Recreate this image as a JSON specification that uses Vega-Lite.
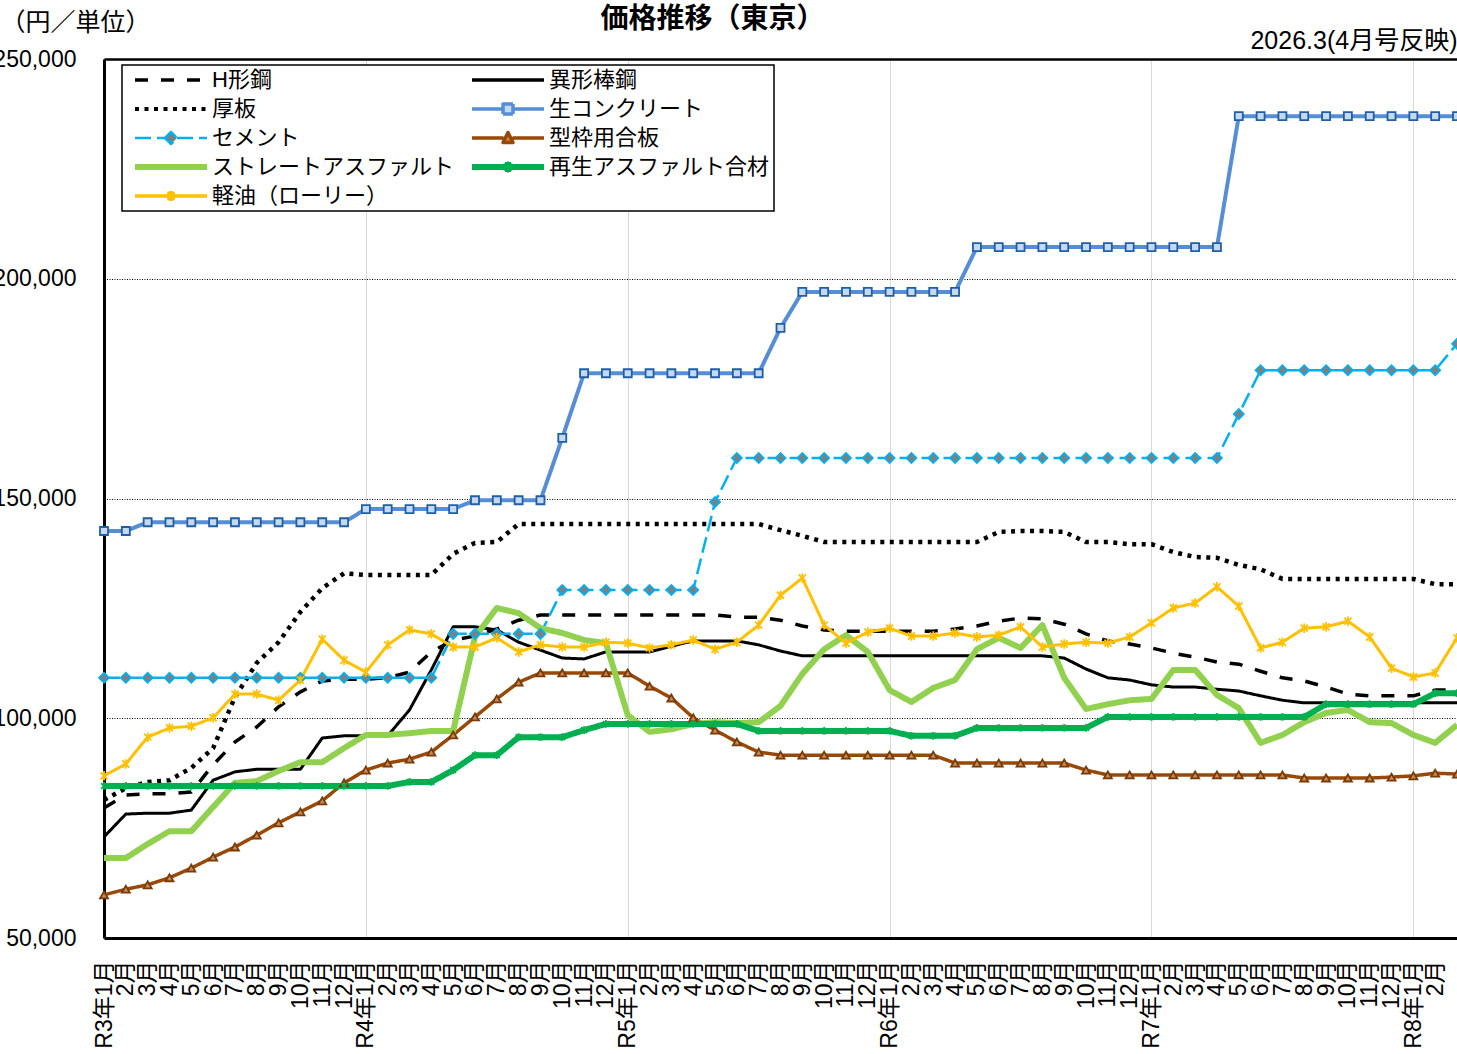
{
  "$schema": "https://vega.github.io/schema/vega-lite/v6.json",
  "width": 1353,
  "height": 879,
  "autosize": {"type": "none"},
  "padding": {"left": 104, "top": 59, "right": 0, "bottom": 116},
  "background": "white",
  "title": {"text": "価格推移（東京）", "fontSize": 28, "fontWeight": "bold", "color": "#000", "anchor": "middle", "frame": "group", "dx": -68, "dy": 26, "offset": 2},
  "data": {"values": [
    {"月":"R3年1月","H形鋼":79600,"異形棒鋼":73000,"厚板":81400,"生コンクリート":142600,"セメント":109200,"型枠用合板":59800,"ストレートアスファルト":68200,"再生アスファルト合材":84600,"軽油（ローリー）":86900},
    {"月":"R3年2月","H形鋼":82500,"異形棒鋼":78200,"厚板":84100,"生コンクリート":142600,"セメント":109200,"型枠用合板":61100,"ストレートアスファルト":68200,"再生アスファルト合材":84600,"軽油（ローリー）":89600},
    {"月":"R3年3月","H形鋼":82800,"異形棒鋼":78400,"厚板":85500,"生コンクリート":144600,"セメント":109200,"型枠用合板":62100,"ストレートアスファルト":71400,"再生アスファルト合材":84600,"軽油（ローリー）":95700},
    {"月":"R3年4月","H形鋼":82800,"異形棒鋼":78400,"厚板":85900,"生コンクリート":144600,"セメント":109200,"型枠用合板":63700,"ストレートアスファルト":74300,"再生アスファルト合材":84600,"軽油（ローリー）":97800},
    {"月":"R3年5月","H形鋼":83200,"異形棒鋼":79100,"厚板":88700,"生コンクリート":144600,"セメント":109200,"型枠用合板":65900,"ストレートアスファルト":74300,"再生アスファルト合材":84600,"軽油（ローリー）":98200},
    {"月":"R3年6月","H形鋼":89400,"異形棒鋼":85900,"厚板":93200,"生コンクリート":144600,"セメント":109200,"型枠用合板":68400,"ストレートアスファルト":79800,"再生アスファルト合材":84600,"軽油（ローリー）":100100},
    {"月":"R3年7月","H形鋼":94600,"異形棒鋼":87800,"厚板":104800,"生コンクリート":144600,"セメント":109200,"型枠用合板":70700,"ストレートアスファルト":85300,"再生アスファルト合材":84600,"軽油（ローリー）":105500},
    {"月":"R3年8月","H形鋼":98000,"異形棒鋼":88400,"厚板":112600,"生コンクリート":144600,"セメント":109200,"型枠用合板":73400,"ストレートアスファルト":85700,"再生アスファルト合材":84600,"軽油（ローリー）":105500},
    {"月":"R3年9月","H形鋼":102600,"異形棒鋼":88400,"厚板":117300,"生コンクリート":144600,"セメント":109200,"型枠用合板":76200,"ストレートアスファルト":88000,"再生アスファルト合材":84600,"軽油（ローリー）":104100},
    {"月":"R3年10月","H形鋼":106000,"異形棒鋼":88400,"厚板":124200,"生コンクリート":144600,"セメント":109200,"型枠用合板":78700,"ストレートアスファルト":90000,"再生アスファルト合材":84600,"軽油（ローリー）":108700},
    {"月":"R3年11月","H形鋼":108500,"異形棒鋼":95500,"厚板":129600,"生コンクリート":144600,"セメント":109200,"型枠用合板":81200,"ストレートアスファルト":90000,"再生アスファルト合材":84600,"軽油（ローリー）":118000},
    {"月":"R3年12月","H形鋼":108900,"異形棒鋼":96000,"厚板":133000,"生コンクリート":144600,"セメント":109200,"型枠用合板":85300,"ストレートアスファルト":93200,"再生アスファルト合材":84600,"軽油（ローリー）":113200},
    {"月":"R4年1月","H形鋼":108900,"異形棒鋼":96000,"厚板":132600,"生コンクリート":147600,"セメント":109200,"型枠用合板":88200,"ストレートアスファルト":96200,"再生アスファルト合材":84600,"軽油（ローリー）":110500},
    {"月":"R4年2月","H形鋼":109200,"異形棒鋼":96000,"厚板":132600,"生コンクリート":147600,"セメント":109200,"型枠用合板":89800,"ストレートアスファルト":96200,"再生アスファルト合材":84600,"軽油（ローリー）":116700},
    {"月":"R4年3月","H形鋼":110500,"異形棒鋼":101900,"厚板":132600,"生コンクリート":147600,"セメント":109200,"型枠用合板":90700,"ストレートアスファルト":96600,"再生アスファルト合材":85500,"軽油（ローリー）":120100},
    {"月":"R4年4月","H形鋼":115100,"異形棒鋼":111000,"厚板":132600,"生コンクリート":147600,"セメント":109200,"型枠用合板":92300,"ストレートアスファルト":97100,"再生アスファルト合材":85500,"軽油（ローリー）":119200},
    {"月":"R4年5月","H形鋼":117800,"異形棒鋼":120800,"厚板":137400,"生コンクリート":147600,"セメント":119200,"型枠用合板":96200,"ストレートアスファルト":97100,"再生アスファルト合材":88200,"軽油（ローリー）":116200},
    {"月":"R4年6月","H形鋼":118700,"異形棒鋼":120800,"厚板":139900,"生コンクリート":149600,"セメント":119200,"型枠用合板":100300,"ストレートアスファルト":118500,"再生アスファルト合材":91600,"軽油（ローリー）":116200},
    {"月":"R4年7月","H形鋼":120300,"異形棒鋼":120100,"厚板":140100,"生コンクリート":149600,"セメント":119200,"型枠用合板":104400,"ストレートアスファルト":125100,"再生アスファルト合材":91600,"軽油（ローリー）":118300},
    {"月":"R4年8月","H形鋼":122300,"異形棒鋼":117300,"厚板":144200,"生コンクリート":149600,"セメント":119200,"型枠用合板":108200,"ストレートアスファルト":123900,"再生アスファルト合材":95700,"軽油（ローリー）":115100},
    {"月":"R4年9月","H形鋼":123500,"異形棒鋼":115500,"厚板":144200,"生コンクリート":149600,"セメント":119200,"型枠用合板":110300,"ストレートアスファルト":120500,"再生アスファルト合材":95700,"軽油（ローリー）":116700},
    {"月":"R4年10月","H形鋼":123500,"異形棒鋼":113700,"厚板":144200,"生コンクリート":163800,"セメント":129200,"型枠用合板":110300,"ストレートアスファルト":119400,"再生アスファルト合材":95700,"軽油（ローリー）":116200},
    {"月":"R4年11月","H形鋼":123500,"異形棒鋼":113500,"厚板":144200,"生コンクリート":178500,"セメント":129200,"型枠用合板":110300,"ストレートアスファルト":117800,"再生アスファルト合材":97300,"軽油（ローリー）":116200},
    {"月":"R4年12月","H形鋼":123500,"異形棒鋼":115100,"厚板":144200,"生コンクリート":178500,"セメント":129200,"型枠用合板":110300,"ストレートアスファルト":117100,"再生アスファルト合材":98700,"軽油（ローリー）":117300},
    {"月":"R5年1月","H形鋼":123500,"異形棒鋼":115100,"厚板":144200,"生コンクリート":178500,"セメント":129200,"型枠用合板":110300,"ストレートアスファルト":100700,"再生アスファルト合材":98700,"軽油（ローリー）":117100},
    {"月":"R5年2月","H形鋼":123500,"異形棒鋼":115100,"厚板":144200,"生コンクリート":178500,"セメント":129200,"型枠用合板":107300,"ストレートアスファルト":96900,"再生アスファルト合材":98700,"軽油（ローリー）":116000},
    {"月":"R5年3月","H形鋼":123500,"異形棒鋼":116400,"厚板":144200,"生コンクリート":178500,"セメント":129200,"型枠用合板":104600,"ストレートアスファルト":97500,"再生アスファルト合材":98700,"軽油（ローリー）":116700},
    {"月":"R5年4月","H形鋼":123500,"異形棒鋼":117600,"厚板":144200,"生コンクリート":178500,"セメント":129200,"型枠用合板":100100,"ストレートアスファルト":98700,"再生アスファルト合材":98700,"軽油（ローリー）":117800},
    {"月":"R5年5月","H形鋼":123500,"異形棒鋼":117600,"厚板":144200,"生コンクリート":178500,"セメント":149200,"型枠用合板":97300,"ストレートアスファルト":99100,"再生アスファルト合材":98700,"軽油（ローリー）":115700},
    {"月":"R5年6月","H形鋼":123000,"異形棒鋼":117600,"厚板":144200,"生コンクリート":178500,"セメント":159200,"型枠用合板":94600,"ストレートアスファルト":98900,"再生アスファルト合材":98700,"軽油（ローリー）":117300},
    {"月":"R5年7月","H形鋼":123000,"異形棒鋼":116700,"厚板":144200,"生コンクリート":178500,"セメント":159200,"型枠用合板":92300,"ストレートアスファルト":99100,"再生アスファルト合材":97100,"軽油（ローリー）":121200},
    {"月":"R5年8月","H形鋼":122300,"異形棒鋼":115300,"厚板":142800,"生コンクリート":188800,"セメント":159200,"型枠用合板":91600,"ストレートアスファルト":102800,"再生アスファルト合材":97100,"軽油（ローリー）":128000},
    {"月":"R5年9月","H形鋼":121000,"異形棒鋼":114200,"厚板":141500,"生コンクリート":197000,"セメント":159200,"型枠用合板":91600,"ストレートアスファルト":110100,"再生アスファルト合材":97100,"軽油（ローリー）":131900},
    {"月":"R5年10月","H形鋼":120100,"異形棒鋼":114200,"厚板":140100,"生コンクリート":197000,"セメント":159200,"型枠用合板":91600,"ストレートアスファルト":115700,"再生アスファルト合材":97100,"軽油（ローリー）":121200},
    {"月":"R5年11月","H形鋼":119800,"異形棒鋼":114200,"厚板":140100,"生コンクリート":197000,"セメント":159200,"型枠用合板":91600,"ストレートアスファルト":118900,"再生アスファルト合材":97100,"軽油（ローリー）":117100},
    {"月":"R5年12月","H形鋼":119800,"異形棒鋼":114200,"厚板":140100,"生コンクリート":197000,"セメント":159200,"型枠用合板":91600,"ストレートアスファルト":115100,"再生アスファルト合材":97100,"軽油（ローリー）":119600},
    {"月":"R6年1月","H形鋼":119800,"異形棒鋼":114200,"厚板":140100,"生コンクリート":197000,"セメント":159200,"型枠用合板":91600,"ストレートアスファルト":106400,"再生アスファルト合材":97100,"軽油（ローリー）":120500},
    {"月":"R6年2月","H形鋼":119800,"異形棒鋼":114200,"厚板":140100,"生コンクリート":197000,"セメント":159200,"型枠用合板":91600,"ストレートアスファルト":103700,"再生アスファルト合材":96000,"軽油（ローリー）":118700},
    {"月":"R6年3月","H形鋼":119800,"異形棒鋼":114200,"厚板":140100,"生コンクリート":197000,"セメント":159200,"型枠用合板":91600,"ストレートアスファルト":106900,"再生アスファルト合材":96000,"軽油（ローリー）":118700},
    {"月":"R6年4月","H形鋼":120300,"異形棒鋼":114200,"厚板":140100,"生コンクリート":197000,"セメント":159200,"型枠用合板":89800,"ストレートアスファルト":108700,"再生アスファルト合材":96000,"軽油（ローリー）":119400},
    {"月":"R6年5月","H形鋼":121000,"異形棒鋼":114200,"厚板":140100,"生コンクリート":207200,"セメント":159200,"型枠用合板":89800,"ストレートアスファルト":115700,"再生アスファルト合材":97800,"軽油（ローリー）":118500},
    {"月":"R6年6月","H形鋼":122100,"異形棒鋼":114200,"厚板":142400,"生コンクリート":207200,"セメント":159200,"型枠用合板":89800,"ストレートアスファルト":118300,"再生アスファルト合材":97800,"軽油（ローリー）":118900},
    {"月":"R6年7月","H形鋼":122800,"異形棒鋼":114200,"厚板":142600,"生コンクリート":207200,"セメント":159200,"型枠用合板":89800,"ストレートアスファルト":116000,"再生アスファルト合材":97800,"軽油（ローリー）":120800},
    {"月":"R6年8月","H形鋼":122600,"異形棒鋼":114200,"厚板":142600,"生コンクリート":207200,"セメント":159200,"型枠用合板":89800,"ストレートアスファルト":121200,"再生アスファルト合材":97800,"軽油（ローリー）":116200},
    {"月":"R6年9月","H形鋼":121400,"異形棒鋼":113700,"厚板":142400,"生コンクリート":207200,"セメント":159200,"型枠用合板":89800,"ストレートアスファルト":109200,"再生アスファルト合材":97800,"軽油（ローリー）":116900},
    {"月":"R6年10月","H形鋼":119200,"異形棒鋼":111200,"厚板":140100,"生コンクリート":207200,"セメント":159200,"型枠用合板":88200,"ストレートアスファルト":102100,"再生アスファルト合材":97800,"軽油（ローリー）":117300},
    {"月":"R6年11月","H形鋼":117600,"異形棒鋼":109200,"厚板":140100,"生コンクリート":207200,"セメント":159200,"型枠用合板":87100,"ストレートアスファルト":103200,"再生アスファルト合材":100300,"軽油（ローリー）":117100},
    {"月":"R6年12月","H形鋼":116900,"異形棒鋼":108700,"厚板":139600,"生コンクリート":207200,"セメント":159200,"型枠用合板":87100,"ストレートアスファルト":104100,"再生アスファルト合材":100300,"軽油（ローリー）":118500},
    {"月":"R7年1月","H形鋼":116000,"異形棒鋼":107600,"厚板":139600,"生コンクリート":207200,"セメント":159200,"型枠用合板":87100,"ストレートアスファルト":104400,"再生アスファルト合材":100300,"軽油（ローリー）":121700},
    {"月":"R7年2月","H形鋼":114800,"異形棒鋼":107100,"厚板":137800,"生コンクリート":207200,"セメント":159200,"型枠用合板":87100,"ストレートアスファルト":111000,"再生アスファルト合材":100300,"軽油（ローリー）":125100},
    {"月":"R7年3月","H形鋼":113900,"異形棒鋼":107100,"厚板":136700,"生コンクリート":207200,"セメント":159200,"型枠用合板":87100,"ストレートアスファルト":111000,"再生アスファルト合材":100300,"軽油（ローリー）":126200},
    {"月":"R7年4月","H形鋼":112800,"異形棒鋼":106600,"厚板":136500,"生コンクリート":207200,"セメント":159200,"型枠用合板":87100,"ストレートアスファルト":105300,"再生アスファルト合材":100300,"軽油（ローリー）":129900},
    {"月":"R7年5月","H形鋼":112300,"異形棒鋼":106200,"厚板":134900,"生コンクリート":237000,"セメント":169200,"型枠用合板":87100,"ストレートアスファルト":102300,"再生アスファルト合材":100300,"軽油（ローリー）":125500},
    {"月":"R7年6月","H形鋼":110700,"異形棒鋼":105100,"厚板":133900,"生コンクリート":237000,"セメント":179200,"型枠用合板":87100,"ストレートアスファルト":94400,"再生アスファルト合材":100300,"軽油（ローリー）":116000},
    {"月":"R7年7月","H形鋼":109200,"異形棒鋼":104100,"厚板":131700,"生コンクリート":237000,"セメント":179200,"型枠用合板":87100,"ストレートアスファルト":96200,"再生アスファルト合材":100300,"軽油（ローリー）":117300},
    {"月":"R7年8月","H形鋼":108500,"異形棒鋼":103500,"厚板":131700,"生コンクリート":237000,"セメント":179200,"型枠用合板":86400,"ストレートアスファルト":99100,"再生アスファルト合材":100300,"軽油（ローリー）":120500},
    {"月":"R7年9月","H形鋼":107100,"異形棒鋼":103500,"厚板":131700,"生コンクリート":237000,"セメント":179200,"型枠用合板":86400,"ストレートアスファルト":101200,"再生アスファルト合材":103200,"軽油（ローリー）":120800},
    {"月":"R7年10月","H形鋼":105500,"異形棒鋼":103500,"厚板":131700,"生コンクリート":237000,"セメント":179200,"型枠用合板":86400,"ストレートアスファルト":101900,"再生アスファルト合材":103200,"軽油（ローリー）":122100},
    {"月":"R7年11月","H形鋼":105100,"異形棒鋼":103500,"厚板":131700,"生コンクリート":237000,"セメント":179200,"型枠用合板":86400,"ストレートアスファルト":99100,"再生アスファルト合材":103200,"軽油（ローリー）":118500},
    {"月":"R7年12月","H形鋼":105100,"異形棒鋼":103500,"厚板":131700,"生コンクリート":237000,"セメント":179200,"型枠用合板":86600,"ストレートアスファルト":98900,"再生アスファルト合材":103200,"軽油（ローリー）":111400},
    {"月":"R8年1月","H形鋼":105100,"異形棒鋼":103500,"厚板":131700,"生コンクリート":237000,"セメント":179200,"型枠用合板":86900,"ストレートアスファルト":96200,"再生アスファルト合材":103200,"軽油（ローリー）":109400},
    {"月":"R8年2月","H形鋼":106400,"異形棒鋼":103500,"厚板":130500,"生コンクリート":237000,"セメント":179200,"型枠用合板":87500,"ストレートアスファルト":94400,"再生アスファルト合材":105700,"軽油（ローリー）":110300},
    {"月":"R8年3月","H形鋼":106400,"異形棒鋼":103500,"厚板":130500,"生コンクリート":237000,"セメント":185200,"型枠用合板":87300,"ストレートアスファルト":98500,"再生アスファルト合材":105700,"軽油（ローリー）":118300}
  ]},
  "transform": [
    {"fold": ["H形鋼","異形棒鋼","厚板","生コンクリート","セメント","型枠用合板","ストレートアスファルト","再生アスファルト合材","軽油（ローリー）"], "as": ["品目","価格"]}
  ],
  "encoding": {
    "y": {
      "field": "価格", "type": "quantitative",
      "scale": {"domain": [50000, 250000], "nice": false, "zero": false},
      "axis": {
        "values": [50000, 100000, 150000, 200000, 250000], "format": ",.0f", "formatType": "number",
        "labelFontSize": 23, "labelColor": "#000", "labelPadding": 28,
        "ticks": false, "domain": true, "domainColor": "#000", "domainWidth": 3,
        "grid": true, "gridColor": "#000", "gridDash": [1, 1.5], "gridWidth": 1,
        "title": "（円／単位）", "titleAngle": 0, "titleAlign": "left", "titleBaseline": "middle",
        "titleX": -104, "titleY": -37, "titleFontSize": 25, "titleFontWeight": "normal", "titleColor": "#000"
      }
    }
  },
  "layer": [
    {
      "mark": {"type": "line", "strokeCap": "butt", "strokeJoin": "round"},
      "encoding": {
        "x": {
          "field": "月", "type": "ordinal", "sort": null,
          "scale": {"type": "point", "padding": 0},
          "axis": {
            "orient": "bottom", "title": null, "labelAngle": 270, "labelFontSize": 23, "labelColor": "#000",
            "labelPadding": 22, "labelOverlap": false, "labelFlush": false, "labelLimit": 200,
            "labelExpr": "datum.label == 'R8年3月' ? '' : (indexof(datum.label, '年1月') >= 0 ? datum.label : split(datum.label, '年')[1])",
            "ticks": false, "domain": true, "domainColor": "#000", "domainWidth": 3,
            "grid": true, "gridColor": "#d9d9d9", "gridWidth": 1,
            "gridOpacity": {"condition": {"test": "indexof(datum.value, '年1月') >= 0", "value": 1}, "value": 0}
          }
        },
        "color": {
          "field": "品目", "type": "nominal",
          "scale": {
            "domain": ["H形鋼","異形棒鋼","厚板","生コンクリート","セメント","型枠用合板","ストレートアスファルト","再生アスファルト合材","軽油（ローリー）"],
            "range": ["#000000","#000000","#000000","#558ed5","#00b0f0","#984807","#92d050","#00b050","#ffc000"]
          },
          "legend": {
            "orient": "none", "legendX": 18, "legendY": 6, "columns": 2, "direction": "horizontal", "title": null,
            "symbolSize": 100, "labelFontSize": 22, "labelLimit": 400, "labelColor": "#000", "labelBaseline": "middle",
            "rowPadding": 7, "columnPadding": 8, "padding": 4,
            "strokeColor": "#000", "fillColor": "#ffffff",
            "labelOffset": 66, "symbolOffset": -2,
            "encode": {
              "symbols": {
                "update": {
                  "stroke": {"scale": "color", "field": "value"},
                  "strokeDash": {"scale": "strokeDash", "field": "value"},
                  "strokeJoin": {"value": "round"},
                  "strokeCap": {"value": "butt"},
                  "shape": {"signal": "datum.value == '生コンクリート' ? 'M0,0L6.2,0M8.2,0L14.4,0M6.2,-1L8.2,-1L8.2,1L6.2,1Z' : datum.value == 'セメント' ? 'M0,0L6,0M8.4,0L14.4,0M6,0L7.2,-1.2L8.4,0L7.2,1.2Z' : datum.value == '型枠用合板' ? 'M0,0L6.3,0M8.1,0L14.4,0M6.2,0.9L7.2,-1.1L8.2,0.9Z' : (datum.value == '再生アスファルト合材' || datum.value == '軽油（ローリー）') ? 'M0,0L14.4,0M6.6,-0.8L7.8,0.8M6.6,0.8L7.8,-0.8M7.2,-1L7.2,1' : 'M0,0L14.4,0'"},
                  "fill": {"signal": "datum.value == '生コンクリート' ? '#c6d9f1' : datum.value == 'セメント' ? '#7f7f7f' : datum.value == '型枠用合板' ? '#c58a5a' : 'transparent'"},
                  "strokeWidth": {"signal": "(datum.value == 'ストレートアスファルト' || datum.value == '再生アスファルト合材') ? 6 : datum.value == '厚板' ? 4 : datum.value == 'セメント' ? 2.5 : 3.5"},
                  "opacity": {"value": 1}
                }
              }
            }
          }
        },
        "strokeDash": {
          "field": "品目", "type": "nominal",
          "scale": {
            "domain": ["H形鋼","異形棒鋼","厚板","生コンクリート","セメント","型枠用合板","ストレートアスファルト","再生アスファルト合材","軽油（ローリー）"],
            "range": [[13, 13], [1, 0], [4, 5.5], [1, 0], [16, 6], [1, 0], [1, 0], [1, 0], [1, 0]]
          },
          "legend": null
        },
        "strokeWidth": {
          "condition": [
            {"test": "datum['品目'] == 'ストレートアスファルト' || datum['品目'] == '再生アスファルト合材'", "value": 6},
            {"test": "datum['品目'] == '厚板'", "value": 4.5},
            {"test": "datum['品目'] == '生コンクリート'", "value": 4},
            {"test": "datum['品目'] == 'H形鋼' || datum['品目'] == '型枠用合板'", "value": 3.5},
            {"test": "datum['品目'] == 'セメント'", "value": 2.5}
          ],
          "value": 3
        }
      }
    },
    {
      "transform": [{"filter": {"field": "品目", "oneOf": ["生コンクリート","セメント","型枠用合板","再生アスファルト合材","軽油（ローリー）"]}}],
      "mark": {"type": "point", "filled": true, "strokeWidth": 1.8, "opacity": 1},
      "encoding": {
        "x": {
          "field": "月", "type": "ordinal", "sort": null,
          "scale": {"type": "point", "padding": 0},
          "axis": {
            "orient": "top", "title": "2026.3(4月号反映)", "labels": false, "ticks": false, "grid": false,
            "domain": true, "domainColor": "#000", "domainWidth": 2.5,
            "titleAnchor": "end", "titleAlign": "right", "titleFontSize": 25, "titleFontWeight": "normal",
            "titlePadding": 6, "titleColor": "#000"
          }
        },
        "shape": {
          "field": "品目", "type": "nominal",
          "scale": {
            "domain": ["生コンクリート","セメント","型枠用合板","再生アスファルト合材","軽油（ローリー）"],
            "range": ["square", "diamond", "triangle-up", "M-0.75,-0.75L0.75,0.75M-0.75,0.75L0.75,-0.75M0,-1L0,1", "M-0.75,-0.75L0.75,0.75M-0.75,0.75L0.75,-0.75M0,-1L0,1"]
          },
          "legend": null
        },
        "stroke": {
          "field": "品目", "type": "nominal",
          "scale": {
            "domain": ["生コンクリート","セメント","型枠用合板","再生アスファルト合材","軽油（ローリー）"],
            "range": ["#1f5fa8", "#00b0f0", "#7a3a05", "#00b050", "#ffc000"]
          },
          "legend": null
        },
        "fill": {
          "field": "品目", "type": "nominal",
          "scale": {
            "domain": ["生コンクリート","セメント","型枠用合板","再生アスファルト合材","軽油（ローリー）"],
            "range": ["#c6d9f1", "#7f7f7f", "#c58a5a", "#00b050", "#ffc000"]
          },
          "legend": null
        },
        "size": {
          "condition": [
            {"test": "datum['品目'] == 'セメント'", "value": 100},
            {"test": "datum['品目'] == '軽油（ローリー）'", "value": 90},
            {"test": "datum['品目'] == '再生アスファルト合材'", "value": 60}
          ],
          "value": 64
        }
      }
    }
  ],
  "resolve": {"axis": {"x": "independent"}},
  "config": {
    "font": "Liberation Sans, Noto Sans CJK JP, sans-serif",
    "view": {"stroke": null},
    "legend": {"strokeWidth": 1.5}
  }
}
